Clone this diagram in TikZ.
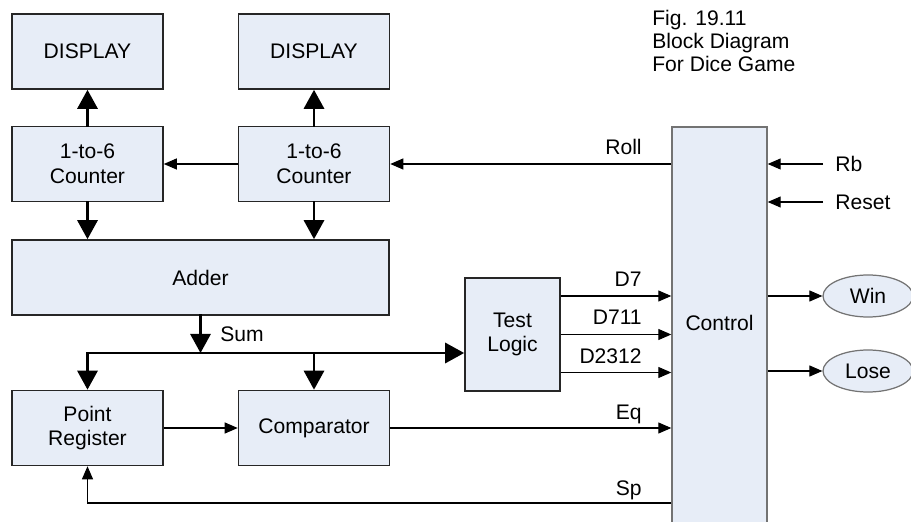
\documentclass[tikz,border=0pt]{standalone}
\usepackage{fontspec}
\setmainfont{Liberation Sans}
\usetikzlibrary{arrows.meta,shapes.geometric}

\definecolor{boxfill}{RGB}{231,237,247}

\tikzset{
    block/.style={rectangle, draw=black!85, fill=boxfill, line width=0.9pt, align=center,
        inner sep=0pt, minimum width=3.02cm, minimum height=1.5cm},
    ctrl/.style={rectangle, draw=black!55, fill=boxfill, line width=0.8pt, inner sep=0pt},
    oval/.style={ellipse, draw=black!55, fill=boxfill, line width=0.7pt, inner sep=0pt,
        minimum width=1.8cm, minimum height=0.84cm},
    sig/.style={line width=0.6pt, -{Triangle[length=0.26cm, width=0.22cm]}},
    bus/.style={line width=1.7pt, line cap=rect, -{Triangle[length=0.38cm, width=0.4cm]}},
    lbl/.style={anchor=base east, inner sep=0pt},
}

\begin{document}
\begin{tikzpicture}[font=\fontsize{12}{14}\selectfont]
    \useasboundingbox (0, 0) rectangle (18.22, 10.42);

    \node[block] (disp1) at (1.75, 9.39) {DISPLAY};
    \node[block] (disp2) at (6.28, 9.39) {DISPLAY};
    \node[block] (cnt1) at (1.75, 7.14) {1-to-6\\Counter};
    \node[block] (cnt2) at (6.28, 7.14) {1-to-6\\Counter};
    \node[block, minimum width=7.54cm] (adder) at (4.01, 4.87) {Adder};
    \node[block] (preg) at (1.75, 1.86) {Point\\Register};
    \node[block] (comp) at (6.28, 1.86) {Comparator};
    \node[block, minimum width=1.9cm, minimum height=2.26cm] (test) at (10.25, 3.73) {Test\\Logic};
    \node[ctrl, minimum width=1.9cm, minimum height=8.02cm] (control) at (14.39, 3.87) {};
    \node (ctrltxt) at (14.39, 3.96) {Control};
    \node[oval] (win) at (17.36, 4.5) {Win};
    \node[oval] (lose) at (17.36, 3.0) {Lose};

    \node[anchor=north west, align=left, inner sep=0pt, font=\fontsize{12}{13}\selectfont]
        (caption) at (13.04, 10.22) {Fig. 19.11\\Block Diagram\\For Dice Game};

    \coordinate (sum) at (4.01, 3.36);
    \coordinate (d7) at ([yshift=0.77cm]test.east);
    \coordinate (d711) at (test.east);
    \coordinate (d2312) at ([yshift=-0.76cm]test.east);
    \coordinate (sp) at (12, 0.36);
    \coordinate (rb) at (16.46, 7.14);
    \coordinate (reset) at (16.46, 6.38);

    % counters and displays
    \draw[bus] (cnt1) -- (disp1);
    \draw[bus] (cnt2) -- (disp2);
    \draw[bus] (cnt1) -- (cnt1 |- adder.north);
    \draw[bus] (cnt2) -- (cnt2 |- adder.north);
    \draw[sig] (cnt2) -- (cnt1);
    \draw[sig] (control.west |- cnt2) -- (cnt2);

    % sum bus
    \draw[bus] (adder) -- (sum);
    \draw[bus] (preg.north |- sum) -- (test.west |- sum);
    \draw[bus] (preg.north |- sum) -- (preg.north);
    \draw[bus] (comp.north |- sum) -- (comp.north);

    % into control
    \draw[sig] (preg) -- (comp);
    \draw[sig] (comp) -- (control.west |- comp);
    \draw[sig] (d7) -- (control.west |- d7);
    \draw[sig] (d711) -- (control.west |- d711);
    \draw[sig] (d2312) -- (control.west |- d2312);
    \draw[sig] (control.west |- sp) -| (preg);
    \draw[sig] (rb) -- (control.east |- rb);
    \draw[sig] (reset) -- (control.east |- reset);
    \draw[sig] (control.east |- win) -- (win);
    \draw[sig] (control.east |- lose) -- (lose);

    % signal names
    \node[lbl] (lroll) at (12.84, 7.32) {Roll};
    \node[lbl] (ld7) at (12.84, 4.68) {D7};
    \node[lbl] (ld711) at (12.84, 3.93) {D711};
    \node[lbl] (ld2312) at (12.84, 3.15) {D2312};
    \node[lbl] (leq) at (12.84, 2.04) {Eq};
    \node[lbl] (lsp) at (12.84, 0.52) {Sp};
    \node[anchor=base west, inner sep=0pt] (lsum) at (4.4, 3.58) {Sum};
    \node[anchor=west, inner sep=0pt] (lrb) at (16.7, 7.14) {Rb};
    \node[anchor=west, inner sep=0pt] (lreset) at (16.7, 6.38) {Reset};
\end{tikzpicture}
\end{document}
